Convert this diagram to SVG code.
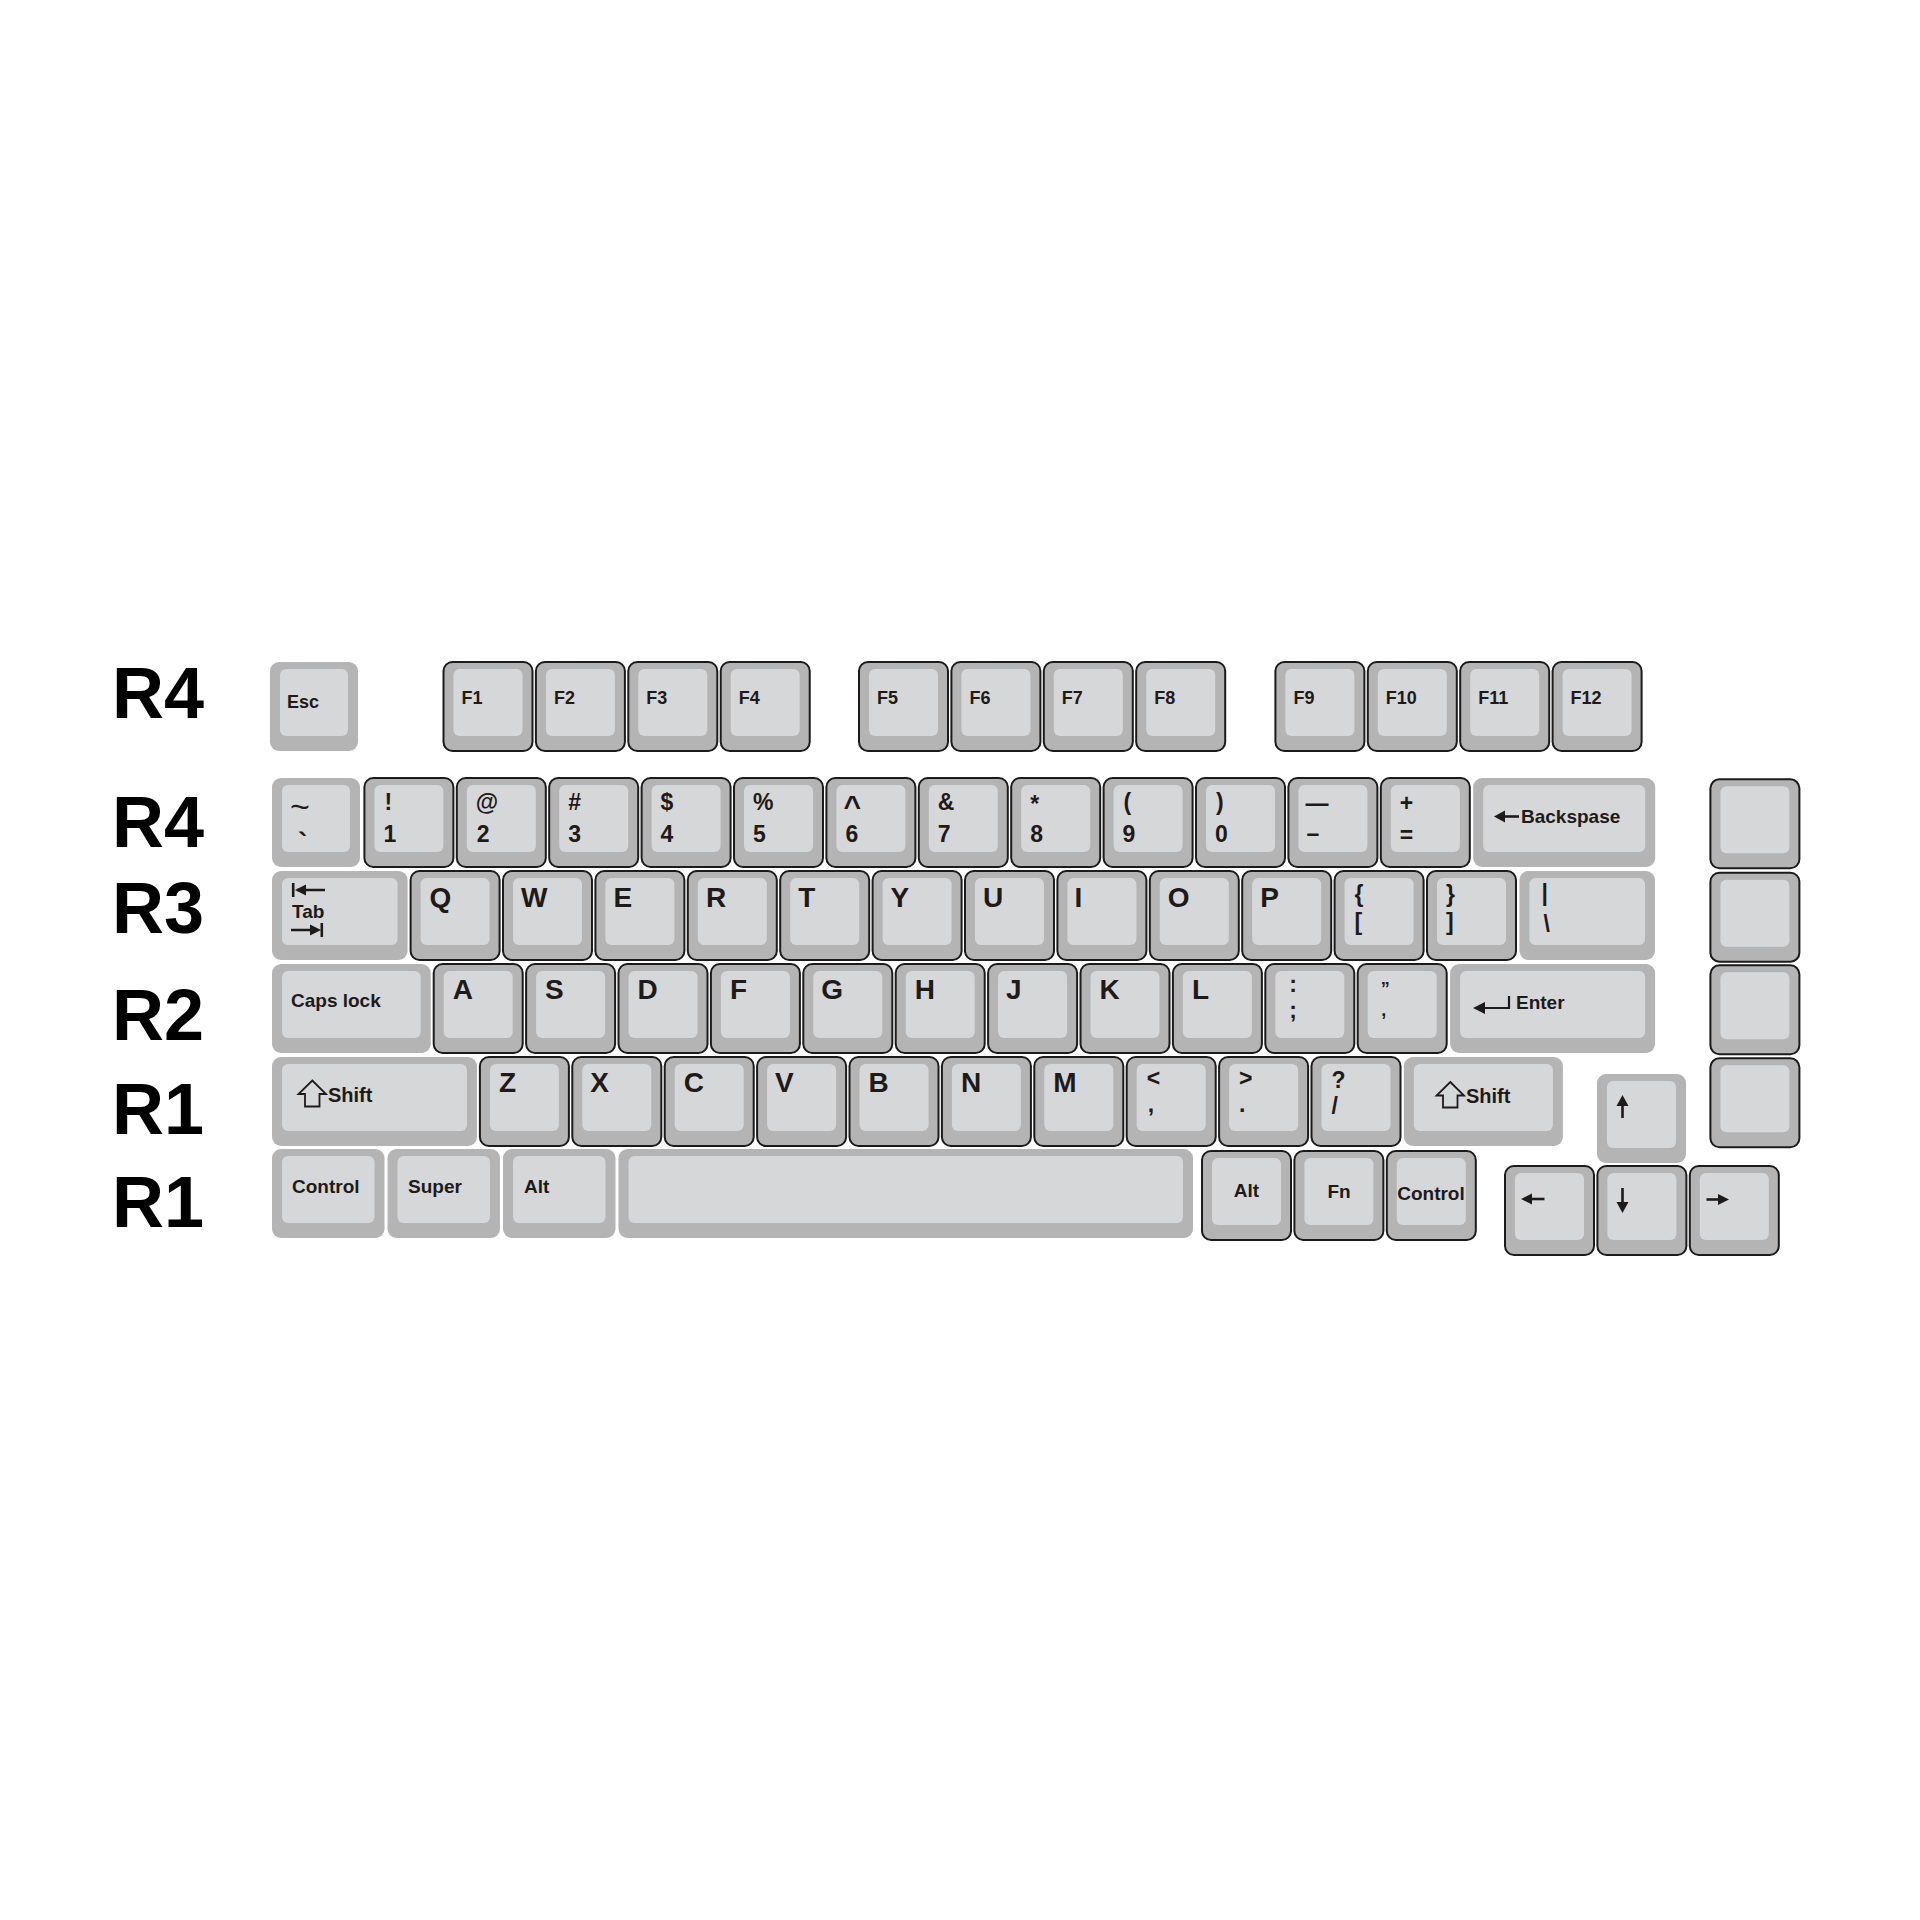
<svg xmlns="http://www.w3.org/2000/svg" xmlns:xlink="http://www.w3.org/1999/xlink" width="1920" height="1920" viewBox="0 0 1920 1920">
<style>
.ko{fill:#b4b4b4}
.kb{stroke:#1b1b1b;stroke-width:2}
.kf{fill:#d6d7d9}
text{font-family:"Liberation Sans",Arial,sans-serif;font-weight:bold;fill:#1e1a1a}
.lt{font-size:28px}
.sy{font-size:23px}
.md{font-size:19px}
.fk{font-size:18px}
.rl{font-size:72px;fill:#000}
.mid{text-anchor:middle}
.ic{fill:none;stroke:#1e1a1a;stroke-width:2.6}
.ih{fill:#1e1a1a}
.is{fill:none;stroke:#1e1a1a;stroke-width:1.8}
</style>
<defs>
<g id="k1b"><rect class="ko kb" width="89" height="89" rx="9"/><rect class="kf" x="10" y="7" width="69" height="67" rx="6"/></g>
<g id="k1n"><rect class="ko" width="89" height="89" rx="9"/><rect class="kf" x="10" y="7" width="69" height="67" rx="6"/></g>
</defs>
<rect width="1920" height="1920" fill="#fff"/>

<g id="row-labels">
<text class="rl" x="112" y="718">R4</text>
<text class="rl" x="112" y="847">R4</text>
<text class="rl" x="112" y="933">R3</text>
<text class="rl" x="112" y="1040">R2</text>
<text class="rl" x="112" y="1134">R1</text>
<text class="rl" x="112" y="1227">R1</text>
</g>

<!-- F row -->
<g id="key-esc"><rect class="ko" x="270" y="662" width="88" height="89" rx="9"/><rect class="kf" x="280" y="669" width="68" height="67" rx="6"/><text class="fk" x="287" y="708">Esc</text></g>
<g id="key-f1"><use xlink:href="#k1b" x="443.5" y="662"/><text class="fk" x="461.5" y="704">F1</text></g>
<g id="key-f2"><use xlink:href="#k1b" x="535.9" y="662"/><text class="fk" x="553.9" y="704">F2</text></g>
<g id="key-f3"><use xlink:href="#k1b" x="628.3" y="662"/><text class="fk" x="646.3" y="704">F3</text></g>
<g id="key-f4"><use xlink:href="#k1b" x="720.7" y="662"/><text class="fk" x="738.7" y="704">F4</text></g>
<g id="key-f5"><use xlink:href="#k1b" x="859" y="662"/><text class="fk" x="877" y="704">F5</text></g>
<g id="key-f6"><use xlink:href="#k1b" x="951.4" y="662"/><text class="fk" x="969.4" y="704">F6</text></g>
<g id="key-f7"><use xlink:href="#k1b" x="1043.8" y="662"/><text class="fk" x="1061.8" y="704">F7</text></g>
<g id="key-f8"><use xlink:href="#k1b" x="1136.2" y="662"/><text class="fk" x="1154.2" y="704">F8</text></g>
<g id="key-f9"><use xlink:href="#k1b" x="1275.4" y="662"/><text class="fk" x="1293.4" y="704">F9</text></g>
<g id="key-f10"><use xlink:href="#k1b" x="1367.8" y="662"/><text class="fk" x="1385.8" y="704">F10</text></g>
<g id="key-f11"><use xlink:href="#k1b" x="1460.2" y="662"/><text class="fk" x="1478.2" y="704">F11</text></g>
<g id="key-f12"><use xlink:href="#k1b" x="1552.6" y="662"/><text class="fk" x="1570.6" y="704">F12</text></g>

<!-- Number row -->
<g id="key-tilde"><rect class="ko" x="272" y="778" width="88" height="89" rx="9"/><rect class="kf" x="282" y="785" width="68" height="67" rx="6"/><text x="290" y="818" style="font-size:34px;font-weight:normal">~</text><text x="298" y="852" style="font-size:28px">`</text></g>
<g id="key-1"><use xlink:href="#k1b" x="364.4" y="778"/><text class="sy" x="384.4" y="810">!</text><text class="sy" x="383.4" y="842">1</text></g>
<g id="key-2"><use xlink:href="#k1b" x="456.8" y="778"/><text class="sy" x="475.8" y="810">@</text><text class="sy" x="476.8" y="842">2</text></g>
<g id="key-3"><use xlink:href="#k1b" x="549.2" y="778"/><text class="sy" x="568.2" y="810">#</text><text class="sy" x="568.2" y="842">3</text></g>
<g id="key-4"><use xlink:href="#k1b" x="641.6" y="778"/><text class="sy" x="660.6" y="810">$</text><text class="sy" x="660.6" y="842">4</text></g>
<g id="key-5"><use xlink:href="#k1b" x="734" y="778"/><text class="sy" x="753" y="810">%</text><text class="sy" x="753" y="842">5</text></g>
<g id="key-6"><use xlink:href="#k1b" x="826.4" y="778"/><text class="sy" x="843.4" y="816" style="font-size:30px">^</text><text class="sy" x="845.4" y="842">6</text></g>
<g id="key-7"><use xlink:href="#k1b" x="918.8" y="778"/><text class="sy" x="937.8" y="810">&amp;</text><text class="sy" x="937.8" y="842">7</text></g>
<g id="key-8"><use xlink:href="#k1b" x="1011.2" y="778"/><text class="sy" x="1030.2" y="812">*</text><text class="sy" x="1030.2" y="842">8</text></g>
<g id="key-9"><use xlink:href="#k1b" x="1103.6" y="778"/><text class="sy" x="1123.6" y="810">(</text><text class="sy" x="1122.6" y="842">9</text></g>
<g id="key-0"><use xlink:href="#k1b" x="1196" y="778"/><text class="sy" x="1216" y="810">)</text><text class="sy" x="1215" y="842">0</text></g>
<g id="key-minus"><use xlink:href="#k1b" x="1288.4" y="778"/><text class="sy" x="1305.4" y="811">—</text><text class="sy" x="1306.4" y="841">–</text></g>
<g id="key-equal"><use xlink:href="#k1b" x="1380.8" y="778"/><text class="sy" x="1399.8" y="811">+</text><text class="sy" x="1399.8" y="843">=</text></g>
<g id="key-backspace"><rect class="ko" x="1473.2" y="778" width="182" height="89" rx="9"/><rect class="kf" x="1483.2" y="785" width="162" height="67" rx="6"/><path class="ic" d="M1502 816.5H1519"/><polygon class="ih" points="1494,816.5 1505,810.5 1505,822.5"/><text class="md" x="1521" y="823">Backspase</text></g>

<!-- Q row -->
<g id="key-tab"><rect class="ko" x="272" y="871" width="135.6" height="89" rx="9"/><rect class="kf" x="282" y="878" width="115.6" height="67" rx="6"/><path class="ic" d="M293.2 883V897M297 890H325M291 930H317M321.8 923V937"/><polygon class="ih" points="295,890 306,884.5 306,895.5"/><polygon class="ih" points="321,930 310,924.5 310,935.5"/><text class="md" x="292" y="918">Tab</text></g>
<g id="key-q"><use xlink:href="#k1b" x="410.6" y="871"/><text class="lt" x="429.6" y="907">Q</text></g>
<g id="key-w"><use xlink:href="#k1b" x="503" y="871"/><text class="lt" x="521" y="907">W</text></g>
<g id="key-e"><use xlink:href="#k1b" x="595.4" y="871"/><text class="lt" x="613.4" y="907">E</text></g>
<g id="key-r"><use xlink:href="#k1b" x="687.8" y="871"/><text class="lt" x="706" y="907">R</text></g>
<g id="key-t"><use xlink:href="#k1b" x="780.2" y="871"/><text class="lt" x="798.2" y="907">T</text></g>
<g id="key-y"><use xlink:href="#k1b" x="872.6" y="871"/><text class="lt" x="890.6" y="907">Y</text></g>
<g id="key-u"><use xlink:href="#k1b" x="965" y="871"/><text class="lt" x="983" y="907">U</text></g>
<g id="key-i"><use xlink:href="#k1b" x="1057.4" y="871"/><text class="lt" x="1074.4" y="907">I</text></g>
<g id="key-o"><use xlink:href="#k1b" x="1149.8" y="871"/><text class="lt" x="1167.8" y="907">O</text></g>
<g id="key-p"><use xlink:href="#k1b" x="1242.2" y="871"/><text class="lt" x="1260.2" y="907">P</text></g>
<g id="key-lbracket"><use xlink:href="#k1b" x="1334.6" y="871"/><text class="sy" x="1354.6" y="902">{</text><text class="sy" x="1354.6" y="930">[</text></g>
<g id="key-rbracket"><use xlink:href="#k1b" x="1427" y="871"/><text class="sy" x="1446" y="902">}</text><text class="sy" x="1446" y="930">]</text></g>
<g id="key-backslash"><rect class="ko" x="1519.4" y="871" width="135.6" height="89" rx="9"/><rect class="kf" x="1529.4" y="878" width="115.6" height="67" rx="6"/><text class="sy" x="1541.4" y="901">|</text><text class="sy" x="1543.4" y="932">\</text></g>

<!-- A row -->
<g id="key-caps"><rect class="ko" x="272" y="964" width="158.7" height="89" rx="9"/><rect class="kf" x="282" y="971" width="138.7" height="67" rx="6"/><text class="md" x="291" y="1007">Caps lock</text></g>
<g id="key-a"><use xlink:href="#k1b" x="433.7" y="964"/><text class="lt" x="452.7" y="999">A</text></g>
<g id="key-s"><use xlink:href="#k1b" x="526.1" y="964"/><text class="lt" x="545.1" y="999">S</text></g>
<g id="key-d"><use xlink:href="#k1b" x="618.5" y="964"/><text class="lt" x="637.5" y="999">D</text></g>
<g id="key-f"><use xlink:href="#k1b" x="710.9" y="964"/><text class="lt" x="729.9" y="999">F</text></g>
<g id="key-g"><use xlink:href="#k1b" x="803.3" y="964"/><text class="lt" x="821.3" y="999">G</text></g>
<g id="key-h"><use xlink:href="#k1b" x="895.7" y="964"/><text class="lt" x="914.7" y="999">H</text></g>
<g id="key-j"><use xlink:href="#k1b" x="988.1" y="964"/><text class="lt" x="1006.1" y="999">J</text></g>
<g id="key-k"><use xlink:href="#k1b" x="1080.5" y="964"/><text class="lt" x="1099.5" y="999">K</text></g>
<g id="key-l"><use xlink:href="#k1b" x="1172.9" y="964"/><text class="lt" x="1191.9" y="999">L</text></g>
<g id="key-semicolon"><use xlink:href="#k1b" x="1265.3" y="964"/><text class="sy" x="1289.3" y="992">:</text><text class="sy" x="1289.3" y="1018">;</text></g>
<g id="key-quote"><use xlink:href="#k1b" x="1357.7" y="964"/><text x="1380.7" y="995" style="font-size:18px">”</text><text x="1381.2" y="1016" style="font-size:18px">,</text></g>
<g id="key-enter"><rect class="ko" x="1450.1" y="964" width="205" height="89" rx="9"/><rect class="kf" x="1460.1" y="971" width="185" height="67" rx="6"/><path class="ic" style="stroke-width:2.2" d="M1483 1008H1509V996"/><polygon class="ih" points="1473,1008 1485,1002 1485,1014"/><text class="md" x="1516" y="1009">Enter</text></g>

<!-- Z row -->
<g id="key-lshift"><rect class="ko" x="272" y="1057" width="205" height="89" rx="9"/><rect class="kf" x="282" y="1064" width="185" height="67" rx="6"/><polygon class="is" points="312.3,1080.5 326,1094 319.5,1094 319.5,1106.5 305,1106.5 305,1094 298.5,1094"/><text class="md" style="font-size:20px" x="328" y="1102">Shift</text></g>
<g id="key-z"><use xlink:href="#k1b" x="479.9" y="1057"/><text class="lt" x="498.9" y="1092">Z</text></g>
<g id="key-x"><use xlink:href="#k1b" x="572.3" y="1057"/><text class="lt" x="590.3" y="1092">X</text></g>
<g id="key-c"><use xlink:href="#k1b" x="664.7" y="1057"/><text class="lt" x="683.7" y="1092">C</text></g>
<g id="key-v"><use xlink:href="#k1b" x="757.1" y="1057"/><text class="lt" x="775.1" y="1092">V</text></g>
<g id="key-b"><use xlink:href="#k1b" x="849.5" y="1057"/><text class="lt" x="868.5" y="1092">B</text></g>
<g id="key-n"><use xlink:href="#k1b" x="941.9" y="1057"/><text class="lt" x="960.9" y="1092">N</text></g>
<g id="key-m"><use xlink:href="#k1b" x="1034.3" y="1057"/><text class="lt" x="1053.3" y="1092">M</text></g>
<g id="key-comma"><use xlink:href="#k1b" x="1126.7" y="1057"/><text class="sy" x="1146.7" y="1086">&lt;</text><text class="sy" x="1147.7" y="1112">,</text></g>
<g id="key-period"><use xlink:href="#k1b" x="1219.1" y="1057"/><text class="sy" x="1239.1" y="1086">&gt;</text><text class="sy" x="1239.1" y="1112">.</text></g>
<g id="key-slash"><use xlink:href="#k1b" x="1311.5" y="1057"/><text class="sy" x="1331.5" y="1088">?</text><text class="sy" x="1331.5" y="1114">/</text></g>
<g id="key-rshift"><rect class="ko" x="1403.9" y="1057" width="159" height="89" rx="9"/><rect class="kf" x="1413.9" y="1064" width="139" height="67" rx="6"/><polygon class="is" points="1450.3,1082 1464,1095.5 1457.5,1095.5 1457.5,1107.5 1443,1107.5 1443,1095.5 1436.5,1095.5"/><text class="md" style="font-size:20px" x="1466" y="1103">Shift</text></g>

<!-- Bottom row -->
<g id="key-lctrl"><rect class="ko" x="272" y="1149" width="112.5" height="89" rx="9"/><rect class="kf" x="282" y="1156" width="92.5" height="67" rx="6"/><text class="md" x="292" y="1193">Control</text></g>
<g id="key-super"><rect class="ko" x="387.5" y="1149" width="112.5" height="89" rx="9"/><rect class="kf" x="397.5" y="1156" width="92.5" height="67" rx="6"/><text class="md" x="408" y="1193">Super</text></g>
<g id="key-lalt"><rect class="ko" x="503" y="1149" width="112.5" height="89" rx="9"/><rect class="kf" x="513" y="1156" width="92.5" height="67" rx="6"/><text class="md" x="524" y="1193">Alt</text></g>
<g id="key-space"><rect class="ko" x="618.5" y="1149" width="574.5" height="89" rx="9"/><rect class="kf" x="628.5" y="1156" width="554.5" height="67" rx="6"/></g>
<g id="key-ralt"><use xlink:href="#k1b" x="1202" y="1151"/><text class="md mid" x="1246.5" y="1197">Alt</text></g>
<g id="key-fn"><use xlink:href="#k1b" x="1294.4" y="1151"/><text class="md mid" x="1339" y="1198">Fn</text></g>
<g id="key-rctrl"><use xlink:href="#k1b" x="1386.8" y="1151"/><text class="md mid" x="1431" y="1200">Control</text></g>

<!-- Arrows -->
<g id="key-up"><use xlink:href="#k1n" x="1597" y="1074"/><path class="ic" d="M1622.5 1104V1118"/><polygon class="ih" points="1622.5,1095 1616.5,1106 1628.5,1106"/></g>
<g id="key-left"><use xlink:href="#k1b" x="1505" y="1166"/><path class="ic" d="M1530 1199H1544.5"/><polygon class="ih" points="1521,1199 1532,1193.5 1532,1204.5"/></g>
<g id="key-down"><use xlink:href="#k1b" x="1597.4" y="1166"/><path class="ic" d="M1622.5 1188V1204"/><polygon class="ih" points="1622.5,1213 1616.5,1202 1628.5,1202"/></g>
<g id="key-right"><use xlink:href="#k1b" x="1689.8" y="1166"/><path class="ic" d="M1706.5 1199.5H1720"/><polygon class="ih" points="1729,1199.5 1718,1194 1718,1205"/></g>

<!-- Right column -->
<g id="key-r1"><use xlink:href="#k1b" x="1710.4" y="779.3"/></g>
<g id="key-r2"><use xlink:href="#k1b" x="1710.4" y="872.7"/></g>
<g id="key-r3"><use xlink:href="#k1b" x="1710.4" y="965.3"/></g>
<g id="key-r4"><use xlink:href="#k1b" x="1710.4" y="1058.3"/></g>

<g id="connectors"></g>
</svg>
